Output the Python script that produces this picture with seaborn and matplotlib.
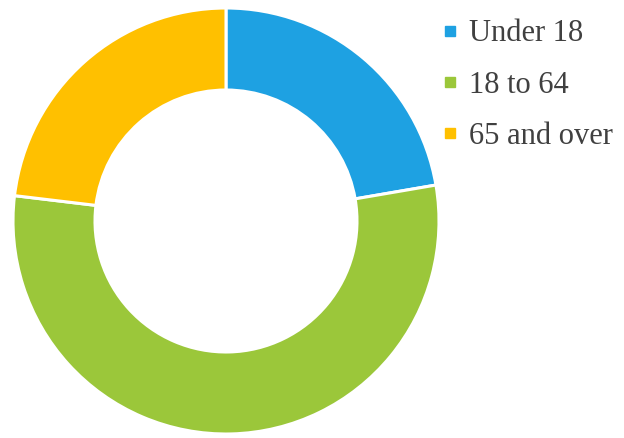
import matplotlib
matplotlib.use("Agg")
import matplotlib.pyplot as plt
from matplotlib.lines import Line2D
import seaborn as sns

# Age groups and their share of the population (percent)
age_groups = ["Under 18", "18 to 64", "65 and over"]
shares = [22.3, 54.6, 23.1]
colors = ["#1ea1e2", "#9bc73a", "#ffc000"]

sns.set_theme(style="white")
plt.rcParams["font.family"] = ["Liberation Serif", "DejaVu Serif"]

fig = plt.figure(figsize=(6.24, 4.38), dpi=100)
fig.patch.set_facecolor("white")

# Square axes holding the ring
ax = fig.add_axes([13 / 624, 4 / 438, 426 / 624, 426 / 438])
wedges, _ = ax.pie(
    shares,
    colors=sns.color_palette(colors),
    startangle=90,
    counterclock=False,
    radius=1.0,
    wedgeprops=dict(width=0.385, edgecolor="white", linewidth=2.2),
)
ax.set_xlim(-1.0, 1.0)
ax.set_ylim(-1.0, 1.0)
ax.set_aspect("equal")
ax.axis("off")

handles = [
    Line2D([], [], marker="s", linestyle="none", markersize=7.8,
           markerfacecolor=c, markeredgecolor=c)
    for c in colors
]
leg = fig.legend(
    handles, age_groups,
    loc="upper left",
    bbox_to_anchor=(426 / 624, 1 - 4 / 438),
    frameon=False,
    fontsize=22,
    handlelength=0.6,
    handletextpad=0.32,
    labelspacing=0.73,
    borderpad=0.0,
)
for t in leg.get_texts():
    t.set_color("#404040")

fig.savefig("out.png", dpi=100, facecolor="white")
